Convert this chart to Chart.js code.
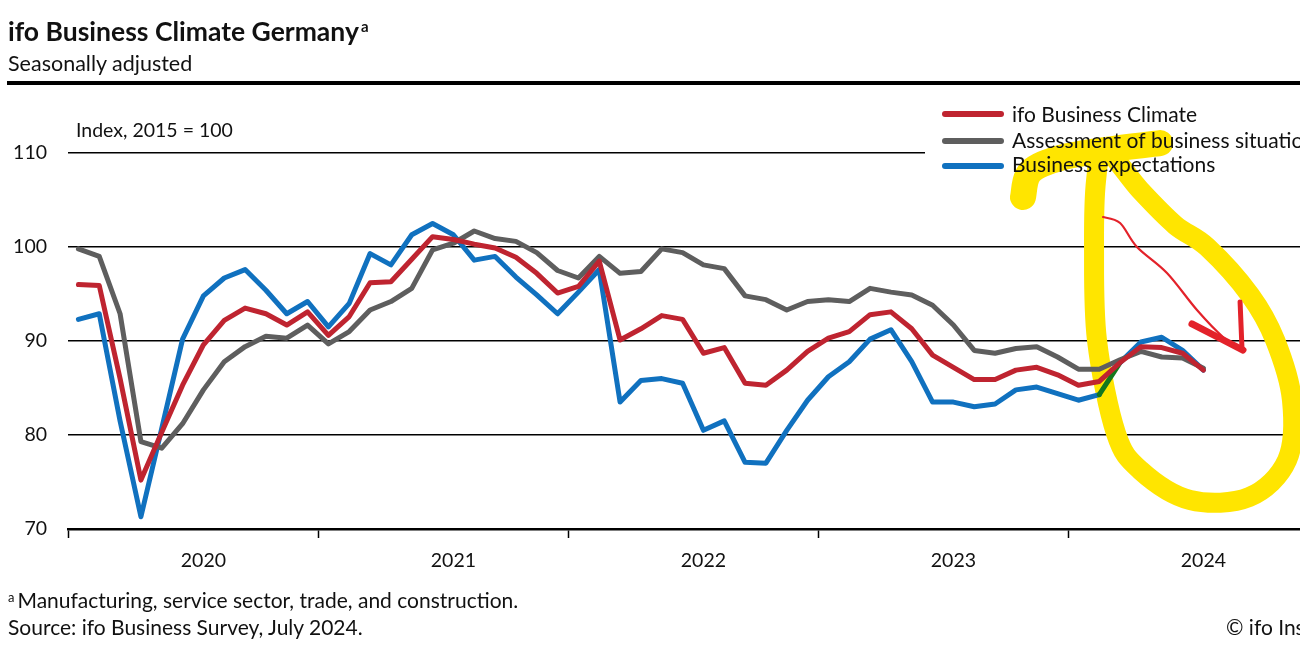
<!DOCTYPE html>
<html><head><meta charset="utf-8">
<script src="https://cdn.jsdelivr.net/npm/chart.js@4.4.1/dist/chart.umd.min.js"></script>
<style>
html,body{margin:0;padding:0;background:#fff;overflow:hidden;width:1300px;height:650px;}
body{position:relative;font-family:Lato, sans-serif;color:#111;}
.t{position:absolute;white-space:nowrap;line-height:1;}
#wrap{position:absolute;left:0;top:0;width:1400px;height:650px;}
#rule{position:absolute;left:7px;top:81px;width:1400px;height:4px;background:#000;}
</style></head><body>
<div id="wrap"><canvas id="c" width="1400" height="650" style="width:1400px;height:650px"></canvas></div>
<div class="t" style="left:8px;top:17.5px;font-size:26.5px;font-weight:700;">ifo Business Climate Germany<span style="font-size:15px;position:relative;top:-9px;margin-left:2px;">a</span></div>
<div class="t" style="left:8px;top:53px;font-size:21.5px;">Seasonally adjusted</div>
<div id="rule"></div>
<div class="t" style="left:76px;top:120px;font-size:19.5px;">Index, 2015 = 100</div>
<div class="t" style="left:8px;top:589px;font-size:21px;"><span style="font-size:13px;position:relative;top:-6px;margin-right:3px;">a</span>Manufacturing, service sector, trade, and construction.</div>
<div class="t" style="left:8px;top:616px;font-size:21px;">Source: ifo Business Survey, July 2024.</div>
<div class="t" style="left:1226px;top:616px;font-size:21px;">© ifo Institute</div>
<script>
// ---- data ----
const months = [
 'Jan 2020','Feb 2020','Mar 2020','Apr 2020','May 2020','Jun 2020','Jul 2020','Aug 2020','Sep 2020','Oct 2020','Nov 2020','Dec 2020',
 'Jan 2021','Feb 2021','Mar 2021','Apr 2021','May 2021','Jun 2021','Jul 2021','Aug 2021','Sep 2021','Oct 2021','Nov 2021','Dec 2021',
 'Jan 2022','Feb 2022','Mar 2022','Apr 2022','May 2022','Jun 2022','Jul 2022','Aug 2022','Sep 2022','Oct 2022','Nov 2022','Dec 2022',
 'Jan 2023','Feb 2023','Mar 2023','Apr 2023','May 2023','Jun 2023','Jul 2023','Aug 2023','Sep 2023','Oct 2023','Nov 2023','Dec 2023',
 'Jan 2024','Feb 2024','Mar 2024','Apr 2024','May 2024','Jun 2024','Jul 2024','Aug 2024','Sep 2024','Oct 2024','Nov 2024','Dec 2024'
];
const yearLabels = ['2020','2021','2022','2023','2024'];
const seriesNames = ['ifo Business Climate','Assessment of business situation','Business expectations'];
const climate = [
 96.0,95.9,86.0,75.2,80.3,85.3,89.6,92.2,93.5,92.9,91.7,93.1,
 90.6,92.6,96.2,96.3,98.7,101.1,100.8,100.3,99.9,98.9,97.2,95.1,
 95.8,98.5,90.1,91.3,92.7,92.3,88.7,89.3,85.5,85.3,86.9,88.9,
 90.3,91.0,92.8,93.1,91.3,88.5,87.2,85.9,85.9,86.9,87.2,86.4,
 85.3,85.7,87.7,89.4,89.3,88.7,86.9
];
const situation = [
 99.8,99.0,92.9,79.3,78.6,81.2,84.8,87.8,89.4,90.5,90.3,91.7,
 89.7,91.0,93.3,94.2,95.6,99.7,100.4,101.7,100.9,100.6,99.4,97.5,
 96.7,99.0,97.2,97.4,99.8,99.4,98.1,97.7,94.8,94.4,93.3,94.2,
 94.4,94.2,95.6,95.2,94.9,93.8,91.7,89.0,88.7,89.2,89.4,88.3,
 87.0,87.0,88.0,88.9,88.3,88.2,87.1
];
const expectations = [
 92.3,92.9,81.5,71.3,80.7,90.2,94.8,96.7,97.6,95.4,92.9,94.2,
 91.5,94.0,99.3,98.1,101.3,102.5,101.3,98.6,99.0,96.8,94.9,92.9,
 95.2,97.6,83.5,85.8,86.0,85.5,80.5,81.5,77.1,77.0,80.5,83.7,
 86.2,87.8,90.2,91.2,87.8,83.5,83.5,83.0,83.3,84.8,85.1,84.4,
 83.7,84.3,87.7,89.9,90.4,89.0,86.9
];
const yTicks = [70,80,90,100,110];
// hand-drawn highlight annotations, in (month index, index value) coordinates
const yellowLoop = [[49.28,110.32],[50.96,106.06],[52.64,102.34],[54.18,100.0],[56.24,94.89],[57.44,90.11],[58.25,83.72],[58.02,77.34],[56.2,73.4],[53.36,73.09],[50.96,76.28],[49.8,80.21],[48.89,90.11],[48.75,100.0],[48.85,107.13]];
const yellowTail = [[51.92,111.06],[49.28,110.32],[47.12,109.47],[45.68,107.98],[45.34,105.32]];
const arrowShaft = [[49.18,103.19],[50.0,102.55],[50.81,100.0],[52.25,97.23],[53.69,93.3],[54.94,90.43],[55.9,89.04]];
const arrowHead1 = [[53.45,91.81],[55.9,89.04]];
const arrowHead2 = [[55.76,94.15],[55.85,89.26]];

const COLORS = {red:'#BF2430', grey:'#5E5E5E', blue:'#1071BF', green:'#14781E', yellow:'#FFE500', pen:'#E3222A'};
const FONT = 'Lato, sans-serif';

function smoothPath(ctx, pts, closed){
  const n = pts.length;
  const get = k => closed ? pts[(k+n)%n] : pts[Math.max(0, Math.min(n-1, k))];
  ctx.moveTo(pts[0][0], pts[0][1]);
  const segs = closed ? n : n-1;
  for (let k=0;k<segs;k++){
    const p0=get(k-1), p1=get(k), p2=get(k+1), p3=get(k+2);
    ctx.bezierCurveTo(p1[0]+(p2[0]-p0[0])/6, p1[1]+(p2[1]-p0[1])/6,
                      p2[0]-(p3[0]-p1[0])/6, p2[1]-(p3[1]-p1[1])/6, p2[0], p2[1]);
  }
}
function toPx(chart, pts){
  const sx = chart.scales.x, sy = chart.scales.y;
  return pts.map(p => [sx.getPixelForValue(p[0]), sy.getPixelForValue(p[1])]);
}

const decor = {
  id:'decor',
  beforeDatasetsDraw(chart){
    const ctx = chart.ctx;
    ctx.save();
    // legend backdrop interrupts the top gridline
    ctx.fillStyle = '#fff';
    ctx.fillRect(925, 95, chart.width - 925, 85);
    // yellow highlighter
    ctx.strokeStyle = COLORS.yellow;
    ctx.lineCap = 'round'; ctx.lineJoin = 'round';
    ctx.lineWidth = 20;
    ctx.beginPath(); smoothPath(ctx, toPx(chart, yellowLoop), true); ctx.stroke();
    ctx.lineWidth = 26;
    ctx.beginPath(); smoothPath(ctx, toPx(chart, yellowTail), false); ctx.stroke();
    ctx.restore();
  },
  afterDatasetsDraw(chart){
    const ctx = chart.ctx;
    ctx.save();
    // legend
    const ys = [114, 141, 166];
    const base = [122, 148, 172];
    chart.data.datasets.forEach((ds, k) => {
      ctx.strokeStyle = ds.borderColor; ctx.lineWidth = 6; ctx.lineCap = 'round';
      ctx.beginPath(); ctx.moveTo(945, ys[k]); ctx.lineTo(1001, ys[k]); ctx.stroke();
      ctx.fillStyle = '#111'; ctx.font = '21px ' + FONT; ctx.textBaseline = 'alphabetic'; ctx.textAlign = 'left';
      ctx.fillText(ds.label, 1012, base[k]);
    });
    // red pen arrow
    ctx.strokeStyle = COLORS.pen; ctx.lineCap = 'round'; ctx.lineJoin = 'round';
    ctx.lineWidth = 2.2;
    ctx.beginPath(); smoothPath(ctx, toPx(chart, arrowShaft), false); ctx.stroke();
    ctx.lineWidth = 7;
    ctx.beginPath(); smoothPath(ctx, toPx(chart, arrowHead1), false); ctx.stroke();
    ctx.lineWidth = 5;
    ctx.beginPath(); smoothPath(ctx, toPx(chart, arrowHead2), false); ctx.stroke();
    ctx.restore();
  }
};

const lineStyle = {pointRadius:0, borderWidth:5, tension:0, borderCapStyle:'round', borderJoinStyle:'round', fill:false};

new Chart(document.getElementById('c'), {
  type:'line',
  data:{
    labels: months,
    datasets:[
      {label:seriesNames[0], data:climate, borderColor:COLORS.red, ...lineStyle},
      {label:seriesNames[1], data:situation, borderColor:COLORS.grey, ...lineStyle},
      {label:seriesNames[2], data:expectations, borderColor:COLORS.blue, ...lineStyle,
        segment:{borderColor: c => c.p0DataIndex === 49 ? COLORS.green : undefined}}
    ]
  },
  options:{
    responsive:false, animation:false, devicePixelRatio:1,
    layout:{padding:{top:153, right:82, bottom:0, left:0}},
    plugins:{legend:{display:false}, tooltip:{enabled:false}, title:{display:false}},
    scales:{
      x:{
        type:'category', offset:true,
        afterFit: s => { s.height = 121; },
        grid:{offset:true, drawOnChartArea:false, drawTicks:true, tickLength:9, tickWidth:1.5,
              tickColor: c => (c.index % 12 === 0 ? '#000' : 'rgba(0,0,0,0)')},
        border:{display:true, color:'#000', width:2.5},
        ticks:{autoSkip:false, maxRotation:0, minRotation:0, padding:11, color:'#111',
               font:{family:FONT, size:19.5},
               callback:(v,i) => (i % 12 === 6 ? yearLabels[Math.floor(i/12)] : '')}
      },
      y:{
        min:yTicks[0], max:yTicks[yTicks.length-1],
        afterFit: s => { s.width = 68; },
        afterBuildTicks: s => { s.ticks = yTicks.map(v => ({value:v})); },
        grid:{color:'#000', lineWidth:1.5, drawTicks:false},
        border:{display:false},
        ticks:{padding:21, color:'#111', font:{family:FONT, size:19.5}}
      }
    }
  },
  plugins:[decor]
});
</script>
</body></html>
